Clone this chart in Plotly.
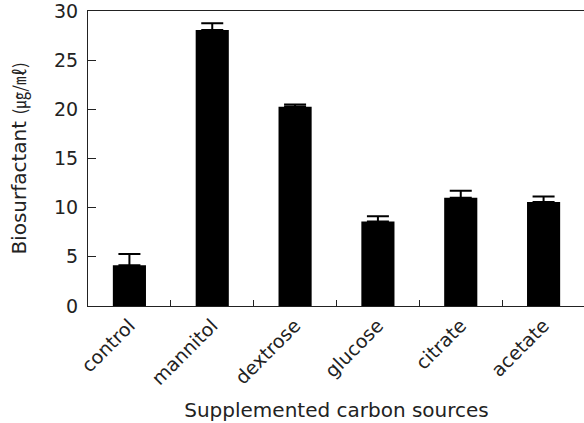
import plotly.graph_objects as go

categories = ["control", "mannitol", "dextrose", "glucose", "citrate", "acetate"]
values = [4.14, 28.08, 20.27, 8.59, 11.0, 10.57]
errors = [1.15, 0.68, 0.23, 0.53, 0.73, 0.57]
y_ticks = [0, 5, 10, 15, 20, 25, 30]

fig = go.Figure()
fig.add_trace(go.Bar(
    x=categories, y=values, width=0.4,
    marker=dict(color="black", line=dict(width=0)),
    error_y=dict(type="data", array=errors, arrayminus=[0]*len(errors), symmetric=False,
                 color="black", thickness=2, width=11, visible=True),
    showlegend=False,
))

font_family = "DejaVu Sans, Liberation Sans, sans-serif"
fig.update_layout(
    width=586, height=423,
    margin=dict(l=88, r=0, t=9, b=117),
    plot_bgcolor="white", paper_bgcolor="white",
    font=dict(family=font_family, color="#222222"),
    xaxis=dict(
        range=[-0.5, 5.5], showline=True, linecolor="#222222", linewidth=1, mirror=True,
        tickangle=-45, tickfont=dict(size=19), ticks="",
        title=dict(text="Supplemented carbon sources", font=dict(size=20), standoff=14),
        showgrid=False,
    ),
    yaxis=dict(
        range=[0, 30], tickvals=y_ticks, showline=True, linecolor="#222222", linewidth=1, mirror=True,
        ticks="inside", ticklen=8, tickcolor="#222222", tickfont=dict(size=19),
        ticklabelstandoff=5, ticklabeloverflow="allow",
        title=dict(text="Biosurfactant <span style='font-size:17px;font-family:Noto Sans CJK KR'>(㎍/㎖)</span>",
                   font=dict(size=20), standoff=22),
        showgrid=False, zeroline=False,
    ),
)

fig.update_xaxes(minor=dict(ticks="inside", ticklen=6, tickcolor="#222222", tickwidth=1,
                            tickvals=[0.5, 1.5, 2.5, 3.5, 4.5]))

fig.write_html("out.html", config={"displayModeBar": False, "staticPlot": True},
               post_script="document.body.style.margin='0';document.body.style.overflow='hidden';")
